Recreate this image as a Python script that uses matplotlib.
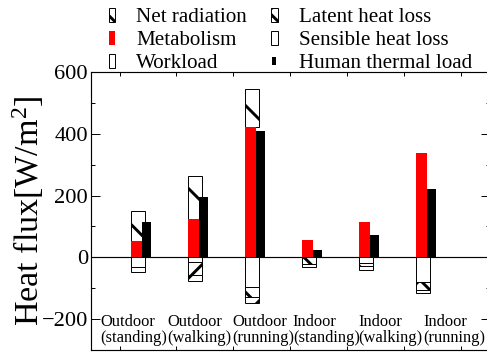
import numpy as np
import matplotlib
matplotlib.use("Agg")
from matplotlib import pyplot as plt
from matplotlib.patches import Patch, Rectangle
from matplotlib.legend_handler import HandlerPatch
from matplotlib.ticker import MultipleLocator

# heat flux components [W/m2]
cases = ["Outdoor\n(standing)", "Outdoor\n(walking)", "Outdoor\n(running)",
         "Indoor\n(standing)", "Indoor\n(walking)", "Indoor\n(running)"]
metabolism = [52, 125, 421, 55, 115, 338]
net_radiation = [98, 139, 124, 0, 0, 0]
workload = [0, 16, 97, 0, 17, 80]
latent_loss = [32, 42, 33, 20, 10, 27]
sensible_loss = [17, 19, 18, 11, 13, 9]
thermal_load = [115, 194, 409, 25, 73, 220]
label_x = [0.67, 1.84, 2.98, 4.04, 5.19, 6.33]

plt.rcParams['font.family'] = 'Liberation Serif'
plt.rcParams['mathtext.fontset'] = 'custom'
plt.rcParams['mathtext.rm'] = 'Liberation Serif'
plt.rcParams['mathtext.it'] = 'Liberation Serif:italic'
plt.rcParams['hatch.linewidth'] = 1.5

DPI = 140
fig = plt.figure(figsize=(487 / DPI, 353 / DPI), dpi=DPI)
ax = fig.add_axes([91 / 487, 1 - 350 / 353, (490 - 91) / 487, (350 - 72) / 353])

x = np.arange(1, 7)
met = np.array(metabolism)
rad = np.array(net_radiation)
wl = np.array(workload)
lat = np.array(latent_loss)
box_left = x + 0.205
box_w = 0.245

ax.axhline(0, color='black', lw=0.6, zorder=1)

# positive side: net radiation on top of metabolism
has_rad = rad > 0
ax.bar(box_left[has_rad], rad[has_rad], width=box_w, bottom=met[has_rad], align='edge',
       facecolor='white', edgecolor='black', lw=0.5, hatch='\\', zorder=2)
# negative side: workload, latent, sensible
ax.bar(box_left, -wl, width=box_w, align='edge',
       facecolor='white', edgecolor='black', lw=0.5, zorder=2)
ax.bar(box_left, -lat, width=box_w, bottom=-wl, align='edge',
       facecolor='white', edgecolor='black', lw=0.5, hatch='x', zorder=2)
ax.bar(box_left, -np.array(sensible_loss), width=box_w, bottom=-wl - lat, align='edge',
       facecolor='white', edgecolor='black', lw=0.5, hatch='/', zorder=2)

ax.bar(x + 0.205, metabolism, width=0.19, align='edge', color='#ff0000', lw=0, zorder=3)
ax.bar(x + 0.395, thermal_load, width=0.15, align='edge', color='black', lw=0, zorder=4)

for lx, name in zip(label_x, cases):
    ax.text(lx, -235, name, ha='left', va='center', fontsize=8.5, linespacing=1.0)

ax.set_xlim(0.5, 7.5)
ax.set_ylim(-300, 600)
ax.set_xticks(x.tolist() + [7])
ax.set_xticklabels([])
ax.set_yticks([-200, 0, 200, 400, 600])
ax.yaxis.set_minor_locator(MultipleLocator(100))
ax.tick_params(axis='x', direction='in', length=2, width=0.5, top=True)
ax.tick_params(axis='y', which='major', direction='in', length=4.5, width=0.5,
               right=True, labelsize=11.5, pad=1.5)
ax.tick_params(axis='y', which='minor', direction='in', length=2, width=0.5, right=True)
for s in ax.spines.values():
    s.set_linewidth(0.6)
ax.set_ylabel('Heat flux[W/m$^2$]', fontsize=17.5, labelpad=-2)


def small_patch(legend, orig_handle, xdescent, ydescent, width, height, fontsize):
    return Rectangle((-xdescent + width * 0.2, -ydescent + height * 0.2),
                     width * 0.6, height * 0.6)


handles = [
    Patch(facecolor='white', edgecolor='black', lw=0.5, hatch='\\'),
    Patch(facecolor='#ff0000', lw=0),
    Patch(facecolor='white', edgecolor='black', lw=0.5),
    Patch(facecolor='white', edgecolor='black', lw=0.5, hatch='xx'),
    Patch(facecolor='white', edgecolor='black', lw=0.5, hatch='/'),
    Patch(facecolor='black', lw=0),
]
labels = ['Net radiation', 'Metabolism', 'Workload',
          'Latent heat loss', 'Sensible heat loss', 'Human thermal load']
fig.legend(handles, labels, ncol=2, loc='upper left',
           bbox_to_anchor=(109 / 487, 1 - 8 / 353), frameon=False, fontsize=10.8,
           borderpad=0, borderaxespad=0, handlelength=0.3, handleheight=0.65,
           handletextpad=1.0, columnspacing=1.15, labelspacing=0.17,
           handler_map={handles[5]: HandlerPatch(patch_func=small_patch)})

fig.savefig('out.png', dpi=DPI)
